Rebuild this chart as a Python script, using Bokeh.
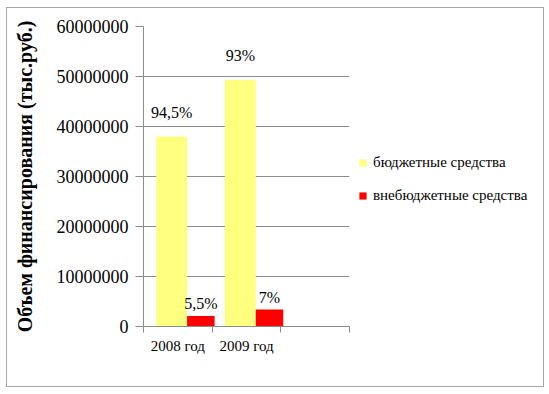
from bokeh.plotting import figure
from bokeh.models import (Range1d, FixedTicker, SingleIntervalTicker, BasicTickFormatter,
                          ColumnDataSource, Legend, LegendItem)
from bokeh.embed import file_html
from bokeh.resources import INLINE
from bokeh.core.properties import value

categories = ["2008 год", "2009 год"]
budget = [38000000, 49300000]
extra = [2100000, 3400000]
budget_pct = ["94,5%", "93%"]
extra_pct = ["5,5%", "7%"]
series_names = ["бюджетные средства", "внебюджетные средства"]
y_title = "Объем финансирования (тыс.руб.)"

FONT = "Liberation Serif"
YELLOW = "#FFFF80"
RED = "#FF0000"
GRAY = "#8c8c8c"

idx = list(range(len(categories)))
yb_x = [i + 0.41 for i in idx]
re_x = [i + 0.835 for i in idx]

p = figure(frame_width=206, frame_height=300, output_backend="svg", toolbar_location=None,
           x_range=Range1d(0, 3), y_range=Range1d(0, 60000000),
           min_border_left=136, min_border_right=180, min_border_top=18, min_border_bottom=60,
           styles={"border": "1px solid #a6a6a6", "margin-left": "6px", "margin-top": "7px",
                   "width": "538px", "height": "380px", "overflow": "hidden",
                   "box-sizing": "border-box"})
p.outline_line_color = None
p.background_fill_color = "white"

src_b = ColumnDataSource(dict(x=yb_x, top=budget, lab=budget_pct))
src_e = ColumnDataSource(dict(x=re_x, top=extra, lab=extra_pct))

rb = p.vbar(x="x", top="top", width=0.45, source=src_b, fill_color=YELLOW, line_color=None)
re = p.vbar(x="x", top="top", width=0.40, source=src_e, fill_color=RED, line_color=None)

p.text(x="x", y="top", text="lab", source=src_b, text_align="center", text_baseline="bottom",
       y_offset=-16, text_font=value(FONT), text_font_size="16px", text_color="black")
p.text(x="x", y="top", text="lab", source=src_e, text_align="center", text_baseline="bottom",
       y_offset=-4, text_font=value(FONT), text_font_size="16px", text_color="black")

# y axis
yax = p.yaxis[0]
yax.ticker = SingleIntervalTicker(interval=10000000)
yax.formatter = BasicTickFormatter(use_scientific=False)
yax.axis_line_color = GRAY
yax.major_tick_line_color = GRAY
yax.major_tick_out = 8
yax.major_tick_in = 0
yax.minor_tick_line_color = None
yax.major_label_text_font = FONT
yax.major_label_text_font_size = "18px"
yax.major_label_text_color = "black"
yax.major_label_standoff = 7
yax.axis_label = y_title
yax.axis_label_text_font = FONT
yax.axis_label_text_font_size = "20px"
yax.axis_label_text_font_style = "bold"
yax.axis_label_text_color = "black"
yax.axis_label_standoff = 18

# x axis
xax = p.xaxis[0]
xax.ticker = FixedTicker(ticks=[i + 0.5 for i in idx], minor_ticks=[0, 1, 2, 3])
xax.major_label_overrides = {i + 0.5: c for i, c in zip(idx, categories)}
xax.axis_line_color = GRAY
xax.major_tick_line_color = None
xax.major_tick_out = 0
xax.major_tick_in = 0
xax.minor_tick_line_color = GRAY
xax.minor_tick_out = 6
xax.minor_tick_in = 0
xax.major_label_text_font = FONT
xax.major_label_text_font_size = "15px"
xax.major_label_text_color = "black"
xax.major_label_standoff = 5

p.xgrid.grid_line_color = None
p.ygrid.grid_line_color = GRAY
p.ygrid.grid_line_width = 1

legend = Legend(items=[LegendItem(label=series_names[0], renderers=[rb]),
                       LegendItem(label=series_names[1], renderers=[re])],
                location=(9, 122))
legend.margin = 0
legend.padding = 0
legend.spacing = 16
legend.glyph_width = 9
legend.glyph_height = 9
legend.label_height = 16
legend.label_standoff = 6
legend.label_text_font = FONT
legend.label_text_font_size = "15px"
legend.label_text_color = "black"
legend.border_line_color = None
legend.background_fill_alpha = 0
p.add_layout(legend, "right")

open("out.html", "w").write(file_html(p, INLINE))
